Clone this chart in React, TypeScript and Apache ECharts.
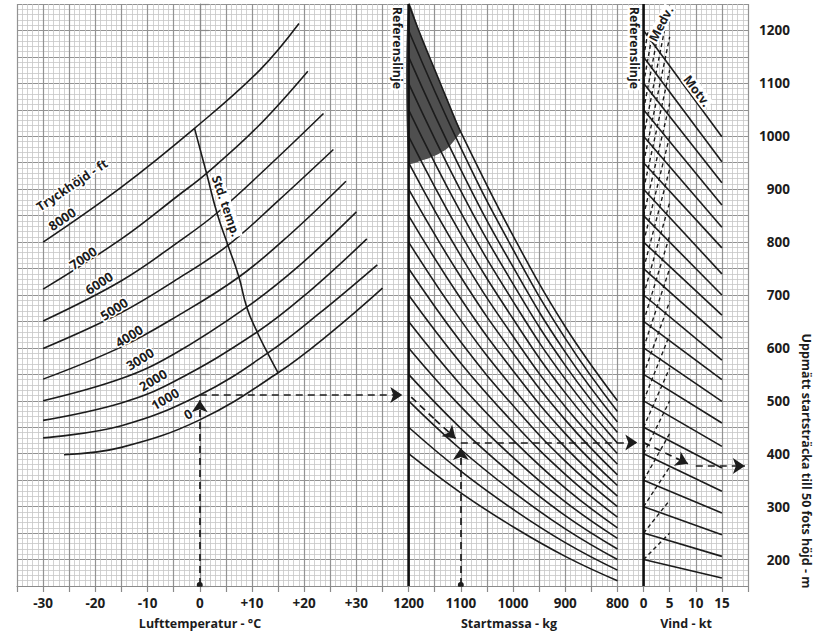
import React, { useEffect, useRef } from "react";
import * as echarts from "echarts";

// ---------- axis ticks ----------
const tempTicks = [-30, -20, -10, 0, 10, 20, 30];
const massTicks = [1200, 1100, 1000, 900, 800];
const windTicks = [0, 5, 10, 15];

// ---------- temperature panel: pressure altitude curves [T °C, distance m] ----------
const altitudes = [0, 1000, 2000, 3000, 4000, 5000, 6000, 7000, 8000];
const alt0 = [[-26, 398], [-15, 412], [0, 464], [15, 553], [25, 628], [35, 713]];
const alt1000 = [[-30, 430], [-15, 453], [0, 511], [13, 590], [23, 666], [34, 757]];
const alt2000 = [[-30, 463], [-15, 496], [-5, 536], [11, 630], [21, 707], [32, 806]];
const alt3000 = [[-30, 500], [-15, 542], [-5, 588], [9, 677], [19, 755], [30, 857]];
const alt4000 = [[-30, 541], [-15, 602], [-4, 662], [7.5, 734], [17, 812], [28, 915]];
const alt5000 = [[-30, 599], [-15, 667], [-4, 732], [5.4, 794], [15, 878], [25.6, 975]];
const alt6000 = [[-30, 651], [-15, 727], [-4, 801], [3.3, 855], [13, 942], [23.7, 1043]];
const alt7000 = [[-30, 711], [-15, 806], [-4, 889], [1.3, 930], [11, 1017], [20.7, 1123]];
const alt8000 = [[-30, 800], [-15, 904], [-1, 1015], [11.5, 1125], [19, 1213]];
const altCurves = [alt0, alt1000, alt2000, alt3000, alt4000, alt5000, alt6000, alt7000, alt8000];
const stdTemp = [[-1, 1015], [1.3, 930], [3.3, 855], [5.4, 794], [7.5, 734], [9, 677], [11, 630], [13, 590], [15, 553]];

// ---------- mass panel guide lines ----------
const guideMasses = [1200, 1100, 1000, 900, 800];
const massGuides = [
  [400, 326, 262, 206, 160],
  [450, 367, 295, 232, 180],
  [500, 408, 328, 258, 200],
  [550, 448, 360, 283, 220],
  [600, 489, 393, 309, 240],
  [650, 530, 426, 335, 260],
  [700, 571, 459, 361, 280],
  [750, 611, 491, 386, 300],
  [800, 652, 524, 412, 320],
  [850, 693, 557, 438, 340],
  [900, 734, 590, 464, 360],
  [950, 774, 622, 489, 380],
  [1000, 815, 655, 515, 400],
  [1050, 856, 688, 541, 420],
  [1100, 897, 721, 567, 440],
  [1150, 937, 753, 592, 460],
  [1200, 978, 786, 618, 480],
];
const topGuideMasses = [1200, 1175, 1150, 1125, 1100, 1000, 900, 800];
const topGuide = [1250, 1186, 1126, 1066, 1008, 812, 640, 500];
// shaded region lower boundary [kg, m]
const shadeArc = [[1100, 1008], [1125, 978], [1150, 963], [1175, 954], [1200, 950]];

// ---------- wind panel ----------
const headStart = [200, 250, 300, 350, 400, 450, 500, 550, 600, 650, 700, 750, 800, 850, 900, 950, 1000, 1050, 1100, 1150, 1200];
const headEnd15 = [165, 206, 247, 288, 329, 373, 414, 458, 499, 540, 577, 618, 662, 700, 740, 789, 828, 870, 912, 952, 999];
const tailStart = [200, 250, 300, 350, 400, 450, 500, 550, 600, 650, 700, 750, 800, 850, 900, 950, 1000, 1050, 1100, 1150];
const tailEnd = [
  [5, 250], [5, 312], [5, 375], [5, 438], [5, 500], [5, 562], [5, 625], [5, 688], [5, 750], [5, 812],
  [5, 875], [5, 938], [5, 1000], [5, 1062], [5, 1125], [5, 1188], [4, 1200], [2.9, 1200], [1.8, 1200], [0.9, 1200],
];

// ---------- worked example (°C / kg / kt, m) ----------
const exTemp = 0;
const exDist1 = 511;
const exMass = 1100;
const exDist2 = 421;
const exWind = 8.5;
const exDist3 = 377;

// unit conversion onto the shared horizontal axis
const uM = (m: number) => 40 + (1200 - m) / 10;
const uW = (w: number) => 85 + w;

const FONT = '"Open Sans", Lato, sans-serif';
const INK = "#1c1c1c";

const xLabels: Record<string, string> = {};
tempTicks.forEach((t) => (xLabels[String(t)] = t > 0 ? "+" + t : String(t)));
massTicks.forEach((m) => (xLabels[String(uM(m))] = String(m)));
windTicks.forEach((w) => (xLabels[String(uW(w))] = String(w)));

function buildOption() {
  const series: any[] = [];
  const lineBase = {
    type: "line",
    symbol: "none",
    silent: true,
    lineStyle: { color: INK, width: 1.6 },
    z: 3,
  };

  // shaded region
  const shadePts: number[][] = [];
  topGuideMasses.forEach((m, i) => {
    if (m >= 1100) shadePts.push([uM(m), topGuide[i]]);
  });
  shadeArc.forEach(([m, d]) => shadePts.push([uM(m), d]));
  series.push({
    type: "custom",
    silent: true,
    z: 2,
    data: [[0, 0]],
    renderItem: (_p: any, api: any) => ({
      type: "polygon",
      shape: { points: shadePts.map((p) => api.coord(p)), smooth: 0.3 },
      style: { fill: "#4f4f4f" },
    }),
  });

  altCurves.forEach((c) => series.push({ ...lineBase, smooth: 0.4, data: c }));
  series.push({ ...lineBase, smooth: 0.5, data: stdTemp });

  massGuides.forEach((g) =>
    series.push({ ...lineBase, smooth: 0.45, data: guideMasses.map((m, j) => [uM(m), g[j]]) })
  );
  series.push({ ...lineBase, smooth: 0.4, data: topGuideMasses.map((m, j) => [uM(m), topGuide[j]]) });

  headStart.forEach((s, i) =>
    series.push({ ...lineBase, data: [[uW(0), s], [uW(15), headEnd15[i]]] })
  );
  tailStart.forEach((s, i) =>
    series.push({
      ...lineBase,
      lineStyle: { color: INK, width: 1.4, type: [4, 3] },
      data: [[uW(0), s], [uW(tailEnd[i][0]), tailEnd[i][1]]],
    })
  );

  // reference lines
  [40, 85].forEach((u) =>
    series.push({ ...lineBase, z: 5, lineStyle: { color: "#111", width: 2.6 }, data: [[u, 150], [u, 1250]] })
  );

  const dash = { color: INK, width: 1.7, type: [7, 5], opacity: 1 };
  const linesBase = {
    type: "lines",
    coordinateSystem: "cartesian2d",
    silent: true,
    z: 6,
    lineStyle: dash,
    itemStyle: { color: INK, opacity: 1 },
  };
  // vertical entries with a dot at the start
  series.push({
    ...linesBase,
    symbol: ["circle", "arrow"],
    symbolSize: [6, 12],
    data: [
      { coords: [[exTemp, 152], [exTemp, exDist1 - 10]] },
      { coords: [[uM(exMass), 152], [uM(exMass), exDist2 - 10]] },
    ],
  });
  // plain connecting piece
  series.push({
    ...linesBase,
    symbol: ["none", "none"],
    data: [{ coords: [[40.5, exDist1 - 4], [45, 465]] }],
  });
  // arrow pieces
  series.push({
    ...linesBase,
    symbol: ["none", "arrow"],
    symbolSize: [1, 12],
    data: [
      { coords: [[exTemp, exDist1], [38.8, exDist1]] },
      { coords: [[45, 465], [uM(exMass) - 1, exDist2 + 8]] },
      { coords: [[uM(exMass), exDist2], [83.8, exDist2]] },
      { coords: [[uW(0), exDist2], [uW(exWind), exDist3 + 4]] },
      { coords: [[uW(exWind + 1.5), exDist3], [uW(19.4), exDist3]] },
    ],
  });

  const txt = (text: string, x: number, y: number, rotDeg: number, extra: any = {}) => ({
    type: "text",
    x,
    y,
    rotation: (rotDeg * Math.PI) / 180,
    z: 100,
    silent: true,
    style: {
      text,
      fill: INK,
      font: `bold 14px ${FONT}`,
      align: "center",
      verticalAlign: "middle",
      ...extra,
    },
  });
  const halo = { stroke: "#fff", lineWidth: 3 };
  const box = { backgroundColor: "#fff", padding: [0, 1] };
  const f13 = `bold 13px ${FONT}`;
  const f12 = `bold 12.5px ${FONT}`;

  const altLabelPos = [
    [188, 414, 30], [165, 399, 30], [153, 380, 31], [140, 359, 32], [129, 336, 32],
    [114, 309, 33], [99, 283, 33], [83, 258, 34], [62, 219, 34],
  ];
  const graphics: any[] = altitudes.map((a, i) =>
    txt(String(a), altLabelPos[i][0], altLabelPos[i][1], altLabelPos[i][2], { ...halo, font: f13 })
  );
  graphics.push(txt("Tryckhöjd - ft", 72, 185, 34, { ...halo, font: f12 }));
  graphics.push(txt("Std. temp.", 226, 206, -71, { ...box, font: f12 }));
  graphics.push(txt("Referenslinje", 397, 48, -90, { ...box, font: f12 }));
  graphics.push(txt("Referenslinje", 634, 48, -90, { ...box, font: f12 }));
  graphics.push(txt("Medv.", 661, 24, 62, { ...box, font: f12 }));
  graphics.push(txt("Motv.", 697, 91, -53, { ...box, font: f12 }));
  graphics.push(txt("Lufttemperatur - °C", 200, 623, 0, { font: f12 }));
  graphics.push(txt("Startmassa - kg", 509, 623, 0, { font: f12 }));
  graphics.push(txt("Vind - kt", 686, 623, 0, { font: f12 }));
  graphics.push(txt("Uppmätt startsträcka till 50 fots höjd - m", 806, 461, -90, { font: f12 }));

  return {
    animation: false,
    backgroundColor: "#fff",
    grid: { left: 17, right: 73, top: 4, bottom: 48, containLabel: false },
    xAxis: {
      type: "value",
      min: -35,
      max: 105,
      interval: 5,
      axisLine: { show: true, lineStyle: { color: "#8a8a8a", width: 1.2 } },
      axisTick: { show: true, length: 6, lineStyle: { color: "#8a8a8a", width: 1.2 } },
      axisLabel: {
        margin: 10,
        color: INK,
        fontFamily: FONT,
        fontWeight: "bold",
        fontSize: 13.5,
        formatter: (v: number) => xLabels[String(v)] ?? "",
      },
      splitLine: { show: true, lineStyle: { color: "#939393", width: 1.2 } },
      minorTick: { show: false, splitNumber: 5 },
      minorSplitLine: { show: true, lineStyle: { color: "#c6c6c6", width: 0.8 } },
    },
    yAxis: {
      type: "value",
      position: "right",
      min: 150,
      max: 1250,
      interval: 50,
      axisLine: { show: true, lineStyle: { color: "#8a8a8a", width: 1.2 } },
      axisTick: { show: true, length: 9, lineStyle: { color: "#8a8a8a", width: 1.2 } },
      axisLabel: {
        margin: 42,
        align: "right",
        color: INK,
        fontFamily: FONT,
        fontWeight: "bold",
        fontSize: 13.5,
        formatter: (v: number) => (v % 100 === 0 && v >= 200 && v <= 1200 ? String(v) : ""),
      },
      splitLine: { show: true, lineStyle: { color: "#939393", width: 1.2 } },
      minorTick: { show: false, splitNumber: 5 },
      minorSplitLine: { show: true, lineStyle: { color: "#c6c6c6", width: 0.8 } },
    },
    graphic: graphics,
    series,
  };
}

export default function App() {
  const ref = useRef<HTMLDivElement>(null);
  useEffect(() => {
    const chart = echarts.init(ref.current!, null, { renderer: "svg" });
    chart.setOption(buildOption() as any);
    return () => chart.dispose();
  }, []);
  return (
    <div
      ref={ref}
      style={{ position: "absolute", left: 0, top: 0, width: 821, height: 634, background: "#fff" }}
    />
  );
}
